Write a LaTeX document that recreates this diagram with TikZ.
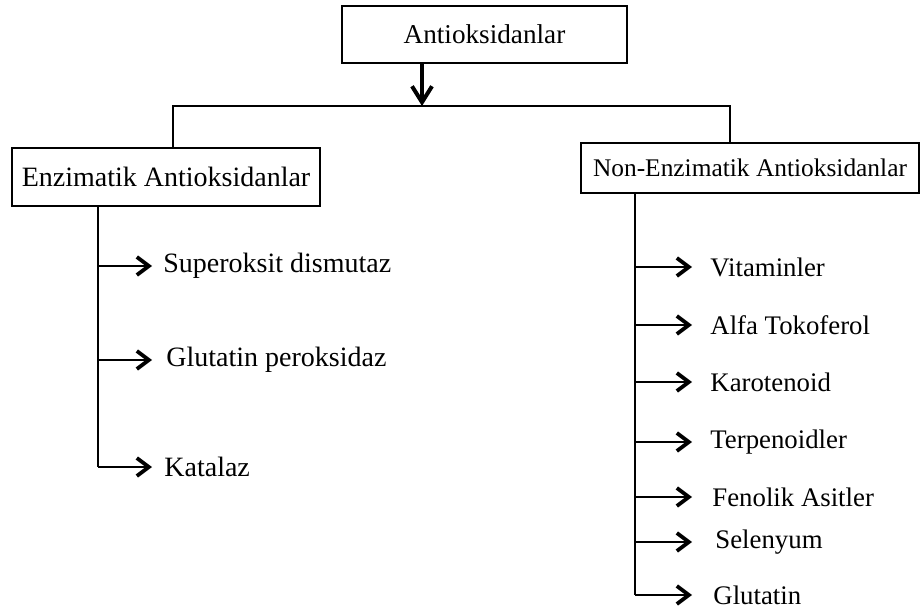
\documentclass[tikz,border=0pt]{standalone}
\usepackage{fontspec}
\setmainfont{Liberation Serif}
\usetikzlibrary{arrows.meta}
\begin{document}
\begin{tikzpicture}[x=0.5pt, y=-0.5pt,
  box/.style={draw, line width=1pt, inner sep=0pt},
  leafL/.style={anchor=west, inner ysep=0pt, inner xsep=5.5pt, font=\fontsize{14}{16}\selectfont},
  leafR/.style={anchor=west, inner ysep=0pt, inner xsep=9pt, font=\fontsize{13.4}{16}\selectfont},
  br/.style={line width=1.1pt, -{Straight Barb[length=6pt, width=9pt, line width=1.9pt]}}]
\useasboundingbox (0,0) rectangle (922,615);
\node[box, minimum width=142.5pt, minimum height=28.5pt, font=\fontsize{13.6}{16}\selectfont] (root) at (484.5,34.5){Antioksidanlar};
\node[box, minimum width=154pt, minimum height=29pt, font=\fontsize{14}{16}\selectfont] (enz) at (166,177){Enzimatik Antioksidanlar};
\node[box, minimum width=169pt, minimum height=25pt, font=\fontsize{12.7}{15}\selectfont] (non) at (750,168){Non-Enzimatik Antioksidanlar};
\coordinate (split) at (422,106);
\coordinate (jL) at (173,106);
\coordinate (jR) at (730,106);
\draw[line width=1.7pt, -{Straight Barb[length=8pt, width=10pt, line width=2pt]}] (root.south -| split) -- (split);
\draw[line width=1pt] (enz.north -| jL) -- (jL) -- (jR) -- (non.north -| jR);
\coordinate (eL) at (98,467);
\coordinate (eR) at (635,595);
\draw[line width=1pt] (enz.south -| eL) -- (eL);
\draw[line width=1pt] (non.south -| eR) -- (eR);
\node[leafL] (e1) at (152,266){Superoksit dismutaz};
\node[leafL, inner xsep=7pt] (e2) at (152,360){Glutatin peroksidaz};
\node[leafL, inner xsep=6pt] (e3) at (152,467){Katalaz};
\draw[br] (eL |- e1) -- (e1.west);
\draw[br] (eL |- e2) -- (e2.west);
\draw[br] (eL |- e3) -- (e3.west);
\node[leafR] (n1) at (692,267){Vitaminler};
\node[leafR] (n2) at (692,325){Alfa Tokoferol};
\node[leafR] (n3) at (692,382){Karotenoid};
\node[leafR] (n4) at (692,442){Terpenoidler};
\node[leafR, inner xsep=10pt] (n5) at (692,497){Fenolik Asitler};
\node[leafR, inner xsep=11.5pt] (n6) at (692,542){Selenyum};
\node[leafR, inner xsep=10.5pt] (n7) at (692,595){Glutatin};
\draw[br] (eR |- n1) -- (n1.west);
\draw[br] (eR |- n2) -- (n2.west);
\draw[br] (eR |- n3) -- (n3.west);
\draw[br] (eR |- n4) -- (n4.west);
\draw[br] (eR |- n5) -- (n5.west);
\draw[br] (eR |- n6) -- (n6.west);
\draw[br] (eR |- n7) -- (n7.west);
\end{tikzpicture}
\end{document}
